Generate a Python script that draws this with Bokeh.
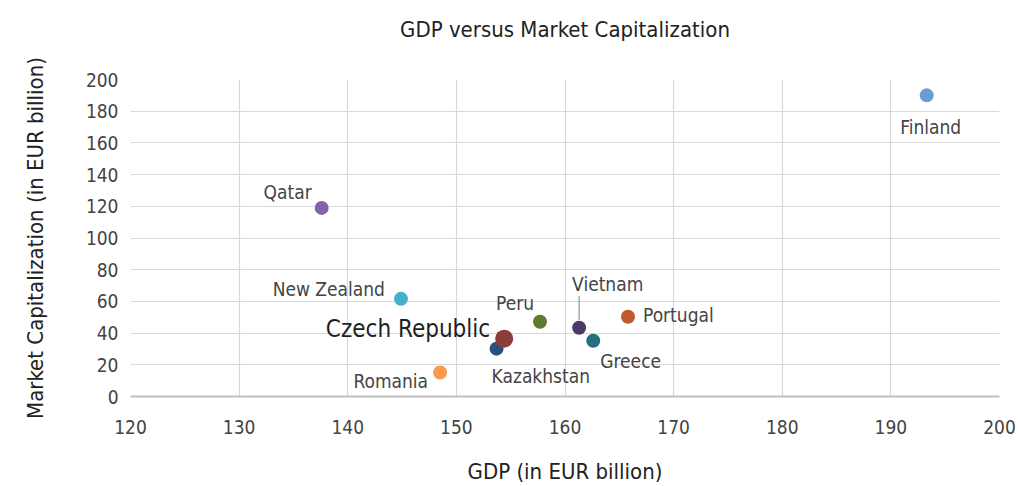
from bokeh.plotting import figure
from bokeh.models import ColumnDataSource, FixedTicker, Range1d, Label, Title
from bokeh.embed import file_html
from bokeh.resources import INLINE

countries = ["Finland", "Qatar", "New Zealand", "Romania", "Kazakhstan",
             "Czech Republic", "Peru", "Vietnam", "Greece", "Portugal"]
gdp = [193.3, 137.6, 144.9, 148.5, 153.7, 154.4, 157.7, 161.3, 162.6, 165.8]
mcap = [190.0, 119.0, 61.6, 15.1, 30.2, 36.5, 47.2, 43.4, 35.2, 50.3]
colors = ["#6a9bd2", "#8063aa", "#43b1ca", "#f99b4c", "#27507d",
          "#8c3d3a", "#5e7a31", "#4b3b6b", "#24717b", "#c0592b"]

x_ticks = [120, 130, 140, 150, 160, 170, 180, 190, 200]
y_ticks = [0, 20, 40, 60, 80, 100, 120, 140, 160, 180, 200]

TITLE = "GDP versus Market Capitalization"
FONT = "DejaVu Sans Condensed"

# label placement (pixel offsets, alignment)
lab_dx = [4, -10, -16, -12, -5, -14, -25, -7, 7, 15]
lab_dy = [-32, 16, 10, -8, -27, 10, 19, 44, -20, 2]
lab_align = ["center", "right", "right", "right", "left", "right", "center", "left", "left", "left"]

p = figure(width=1018, height=486, output_backend="svg", toolbar_location=None,
           x_range=Range1d(120, 200), y_range=Range1d(0, 200),
           min_border_left=130, min_border_right=19, min_border_top=79, min_border_bottom=86)
p.outline_line_color = None
p.background_fill_color = "white"
p.border_fill_color = "white"

p.title.text = TITLE
p.title.align = "center"
p.title.text_font = FONT
p.title.text_font_size = "22px"
p.title.text_font_style = "normal"
p.title.text_color = "#222222"
p.title.offset = 0
p.title.standoff = 10
# invisible spacer between title and plot area
p.add_layout(Title(text=" ", text_font_size="28px", standoff=0), "above")

p.xaxis.ticker = FixedTicker(ticks=x_ticks)
p.yaxis.ticker = FixedTicker(ticks=y_ticks)
for ax in (p.xaxis[0], p.yaxis[0]):
    ax.major_tick_line_color = None
    ax.minor_tick_line_color = None
    ax.major_label_text_font = FONT
    ax.major_label_text_font_size = "19px"
    ax.major_label_text_color = "#444444"
    ax.axis_label_text_font = FONT
    ax.axis_label_text_font_size = "22px"
    ax.axis_label_text_font_style = "normal"
    ax.axis_label_text_color = "#222222"
p.xaxis.axis_label = "GDP (in EUR billion)"
p.yaxis.axis_label = "Market Capitalization (in EUR billion)"
p.xaxis.axis_line_color = "#bfbfbf"
p.xaxis.axis_line_width = 2
p.yaxis.axis_line_color = None
p.xaxis.major_label_standoff = 17
p.yaxis.major_label_standoff = 6
p.xaxis.axis_label_standoff = 22
p.yaxis.axis_label_standoff = 35

p.xgrid.grid_line_color = "#d9d9d9"
p.ygrid.grid_line_color = "#d9d9d9"
p.xgrid.grid_line_width = 1.2
p.ygrid.grid_line_width = 1.2

sizes = [14 if c != "Czech Republic" else 18 for c in countries]
src = ColumnDataSource(dict(x=gdp, y=mcap, c=colors, s=sizes))

# Vietnam leader line
vi = countries.index("Vietnam")
p.segment(x0=[gdp[vi]], y0=[mcap[vi] + 5], x1=[gdp[vi]], y1=[mcap[vi] + 20],
          line_color="#7f7f7f", line_width=1)

p.scatter("x", "y", source=src, size="s", fill_color="c", line_color="c", line_width=0)

for i, name in enumerate(countries):
    big = name == "Czech Republic"
    p.add_layout(Label(x=gdp[i], y=mcap[i], text=name, x_offset=lab_dx[i], y_offset=lab_dy[i],
                       text_align=lab_align[i], text_baseline="middle",
                       text_font=FONT, text_font_size="24px" if big else "19px",
                       text_font_style="normal",
                       text_color="#1f1f1f" if big else "#444444"))

open("out.html", "w").write(file_html(p, INLINE))
